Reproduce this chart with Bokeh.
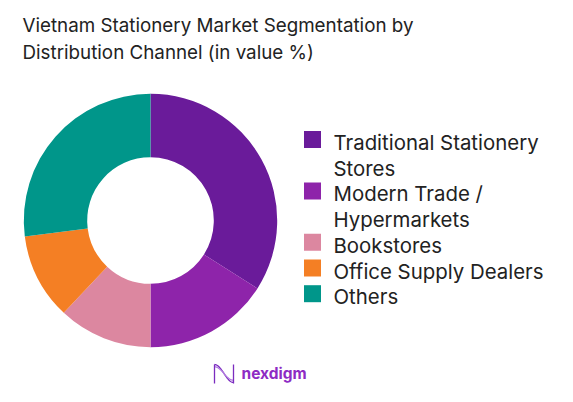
import numpy as np
from bokeh.plotting import figure
from bokeh.models import Range1d, ColumnDataSource
from bokeh.core.properties import value
from bokeh.embed import file_html
from bokeh.resources import INLINE

title_lines = ["Vietnam Stationery Market Segmentation by", "Distribution Channel (in value %)"]
categories = ["Traditional Stationery\nStores", "Modern Trade /\nHypermarkets", "Bookstores",
              "Office Supply Dealers", "Others"]
shares = [34, 16, 12, 11, 27]
colors = ["#6A1B9A", "#8E24AA", "#DC87A0", "#F47F24", "#00968A"]

W, H = 557, 386
FONT = "Inter"
TXT = "#222222"

def fx(x):
    return x

def fy(y):
    return H - y

p = figure(width=W, height=H, output_backend="svg", toolbar_location=None,
           x_range=Range1d(0, W), y_range=Range1d(0, H), min_border=0)
p.axis.visible = False
p.grid.visible = False
p.outline_line_color = None
p.background_fill_color = "white"
p.border_fill_color = "white"

# donut
vals = np.array(shares, dtype=float)
frac = vals / vals.sum()
cum = np.concatenate([[0], np.cumsum(frac)])
starts = np.pi / 2 - 2 * np.pi * cum[1:]
ends = np.pi / 2 - 2 * np.pi * cum[:-1]
src = ColumnDataSource(dict(x=[fx(150)] * len(vals), y=[fy(220)] * len(vals),
                            start=starts, end=ends, color=colors))
p.annular_wedge(x="x", y="y", inner_radius=63.3, outer_radius=126.7,
                start_angle="start", end_angle="end", fill_color="color",
                line_color=None, source=src)

# title
p.text(x=[fx(22)] * 2, y=[fy(25), fy(52)], text=title_lines,
       text_font=value(FONT), text_font_size="18.8px", text_color=TXT,
       text_baseline="alphabetic", text_align="left")

# legend
line_h = 25.7
y0 = 142
ly = []
sq_y = []
lx = []
ltxt = []
cur = y0
for lab in categories:
    parts = lab.split("\n")
    sq_y.append(fy(cur - 3))
    for part in parts:
        lx.append(fx(333))
        ly.append(fy(cur))
        ltxt.append(part)
        cur += line_h
p.rect(x=[fx(312)] * len(categories), y=sq_y, width=17, height=17,
       fill_color=colors, line_color=None)
p.text(x=lx, y=ly, text=ltxt, text_font=value(FONT), text_font_size="20.4px",
       text_color=TXT, text_baseline="middle", text_align="left")

# logo
t = np.linspace(0, 1, 40)
for k, (a, c) in enumerate([(1.0, "#7B2CBF"), (0.75, "#B37FE0")]):
    xs = fx(214) + t * 19
    ys = fy(373) + a * 9 * np.cos(np.pi * t)
    p.line(x=xs, y=ys, line_color=c, line_width=1.3)
p.line(x=[fx(214), fx(214)], y=[fy(364), fy(383)], line_color="#7B2CBF", line_width=1.3)
p.line(x=[fx(233), fx(233)], y=[fy(364), fy(383)], line_color="#7B2CBF", line_width=1.3)
p.text(x=[fx(241)], y=[fy(373)], text=["nexdigm"], text_font=value(FONT),
       text_font_size="15.5px", text_font_style="bold", text_color="#8E2BC4",
       text_baseline="middle", text_align="left")

open("out.html", "w").write(file_html(p, INLINE))
